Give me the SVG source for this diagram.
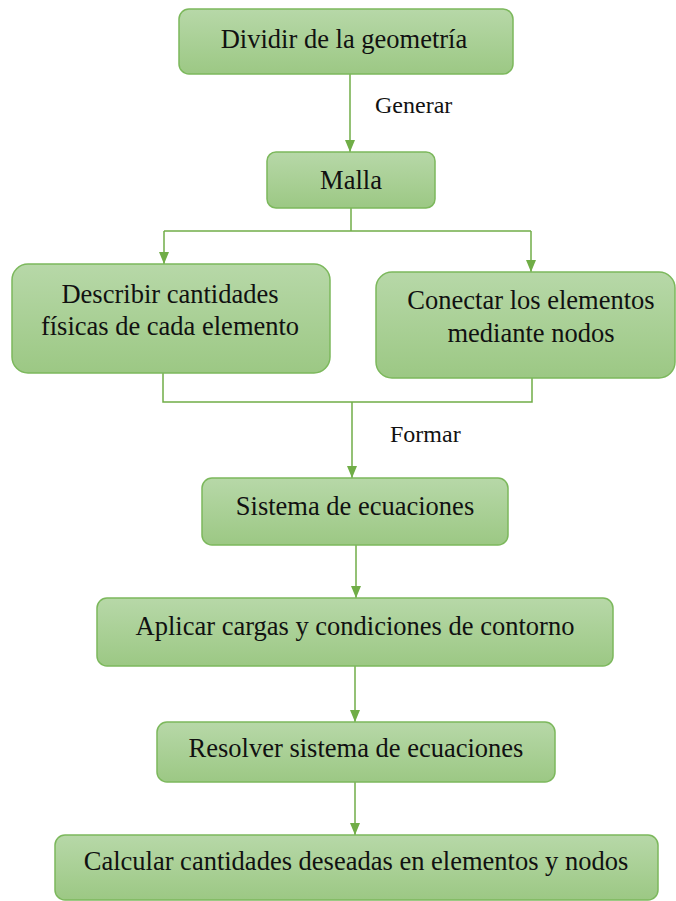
<svg xmlns="http://www.w3.org/2000/svg" width="676" height="901" viewBox="0 0 676 901">
<defs>
<linearGradient id="g" x1="0" y1="0" x2="0" y2="1">
<stop offset="0" stop-color="#b7d8a8"/>
<stop offset="1" stop-color="#9cc884"/>
</linearGradient>
<marker id="ah" markerWidth="12" markerHeight="10" refX="12" refY="5" orient="auto" markerUnits="userSpaceOnUse">
<path d="M0,0 L12,5 L0,10 Z" fill="#70ad47"/>
</marker>
<style>
.box{fill:url(#g);stroke:#7cb85c;stroke-width:1.5}
.t{font-size:26.5px;fill:#111;text-anchor:middle}
.l{font-size:24px;fill:#111}
.c{fill:none;stroke:#70ad47;stroke-width:1.5}
</style>
</defs>
<rect width="676" height="901" fill="#fff"/>
<g font-family="Liberation Serif, Tinos, DejaVu Serif, serif">
<g id="connectors">
<path class="c" d="M350,74 V152" marker-end="url(#ah)"/>
<path class="c" d="M351,208 V231"/>
<path class="c" d="M164,231 H531"/>
<path class="c" d="M164,231 V264" marker-end="url(#ah)"/>
<path class="c" d="M531,231 V272" marker-end="url(#ah)"/>
<path class="c" d="M163,373 V402 H532 V378"/>
<path class="c" d="M352,402 V478" marker-end="url(#ah)"/>
<path class="c" d="M356,545 V598" marker-end="url(#ah)"/>
<path class="c" d="M355,666 V722" marker-end="url(#ah)"/>
<path class="c" d="M355,782 V835" marker-end="url(#ah)"/>
<text class="l" x="375" y="113">Generar</text>
<text class="l" x="390" y="442">Formar</text>
</g>
<g id="n1"><rect class="box" x="179" y="9" width="334" height="65" rx="10"/><text class="t" x="344" y="48">Dividir de la geometría</text></g>
<g id="n2"><rect class="box" x="267" y="152" width="168" height="56" rx="9"/><text class="t" x="351" y="189">Malla</text></g>
<g id="n3"><rect class="box" x="12" y="264" width="318" height="109" rx="16"/><text class="t" x="170" y="303">Describir cantidades</text><text class="t" x="170" y="335">físicas de cada elemento</text></g>
<g id="n4"><rect class="box" x="376" y="272" width="299" height="106" rx="16"/><text class="t" x="531" y="309">Conectar los elementos</text><text class="t" x="531" y="342">mediante nodos</text></g>
<g id="n5"><rect class="box" x="202" y="478" width="306" height="67" rx="10"/><text class="t" x="355" y="515">Sistema de ecuaciones</text></g>
<g id="n6"><rect class="box" x="97" y="598" width="516" height="68" rx="10"/><text class="t" x="355" y="635">Aplicar cargas y condiciones de contorno</text></g>
<g id="n7"><rect class="box" x="157" y="722" width="398" height="60" rx="10"/><text class="t" x="356" y="757">Resolver sistema de ecuaciones</text></g>
<g id="n8"><rect class="box" x="55" y="835" width="603" height="65" rx="10"/><text class="t" x="356" y="870">Calcular cantidades deseadas en elementos y nodos</text></g>
</g>
</svg>
